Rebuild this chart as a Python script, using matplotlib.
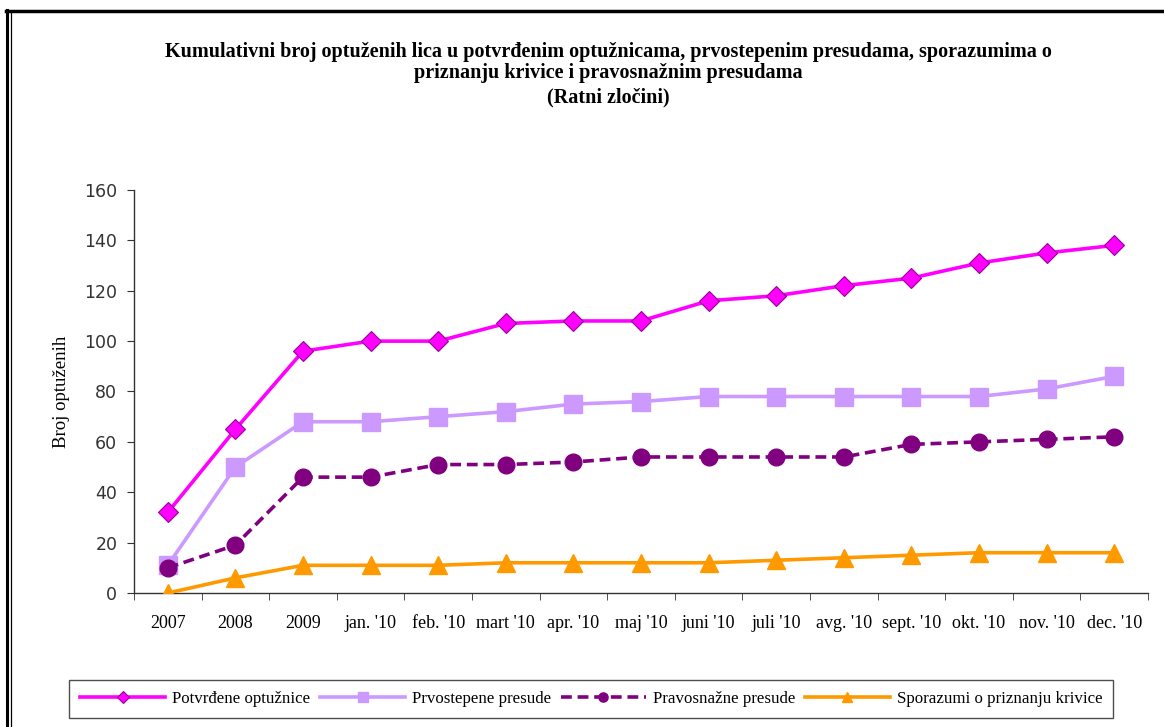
import matplotlib
matplotlib.use("Agg")
import matplotlib.pyplot as plt
from matplotlib.lines import Line2D
import numpy as np

categories = ["2007", "2008", "2009", "jan. '10", "feb. '10", "mart '10", "apr. '10",
              "maj '10", "juni '10", "juli '10", "avg. '10", "sept. '10", "okt. '10",
              "nov. '10", "dec. '10"]
potvrdjene = [32, 65, 96, 100, 100, 107, 108, 108, 116, 118, 122, 125, 131, 135, 138]
prvostepene = [11, 50, 68, 68, 70, 72, 75, 76, 78, 78, 78, 78, 78, 81, 86]
pravosnazne = [10, 19, 46, 46, 51, 51, 52, 54, 54, 54, 54, 59, 60, 61, 62]
sporazumi = [0, 6, 11, 11, 11, 12, 12, 12, 12, 13, 14, 15, 16, 16, 16]

series_names = ["Potvrđene optužnice", "Prvostepene presude",
                "Pravosnažne presude", "Sporazumi o priznanju krivice"]

fig = plt.figure(figsize=(11.64, 7.27), dpi=100)
ax = fig.add_axes([0.1151, 0.1843, 0.8711, 0.5544])

x = np.arange(len(categories))
lw = 2.6
ax.plot(x, potvrdjene, color="#FF00FF", lw=lw, marker="D", markersize=10.5,
        markerfacecolor="#FF00FF", markeredgecolor="#990099", markeredgewidth=0.8,
        label=series_names[0], zorder=4)
ax.plot(x, prvostepene, color="#CC99FF", lw=lw, marker="s", markersize=12.5,
        markerfacecolor="#CC99FF", markeredgecolor="#CC99FF",
        label=series_names[1], zorder=3)
ax.plot(x, pravosnazne, color="#800080", lw=lw, ls=(0, (3, 1.6)), marker="o", markersize=12,
        markerfacecolor="#800080", markeredgecolor="#800080",
        label=series_names[2], zorder=5)
ax.plot(x, sporazumi, color="#FF9900", lw=lw, marker="^", markersize=12.5,
        markerfacecolor="#FF9900", markeredgecolor="#FF9900",
        label=series_names[3], zorder=3)

ax.set_xlim(-0.5, len(categories) - 0.5)
ax.set_ylim(0, 160)
ax.set_yticks(np.arange(0, 161, 20))
ax.set_xticks(x)
ax.set_xticklabels(categories, fontfamily="Liberation Serif", fontsize=13)
ax.set_xticks(np.arange(-0.5, len(categories), 1), minor=True)
ax.tick_params(axis="x", which="major", length=0, pad=16)
ax.tick_params(axis="x", which="minor", length=5, direction="out", color="#333333")
ax.tick_params(axis="y", length=5, direction="out", color="#333333", pad=7)
for lab in ax.get_yticklabels():
    lab.set_fontfamily("DejaVu Sans")
    lab.set_fontsize(12.5)
    lab.set_color("#333333")

for s in ["top", "right"]:
    ax.spines[s].set_visible(False)
for s in ["left", "bottom"]:
    ax.spines[s].set_color("#333333")
    ax.spines[s].set_linewidth(1.0)

ax.set_ylabel("Broj optuženih", fontfamily="Liberation Serif", fontsize=13.5, labelpad=10)

title_kw = dict(ha="center", va="center", fontfamily="Liberation Serif",
                fontweight="bold", fontsize=14.5)
fig.text(0.523, 0.929, "Kumulativni broj optuženih lica u potvrđenim optužnicama, prvostepenim presudama, sporazumima o", **title_kw)
fig.text(0.523, 0.899, "priznanju krivice i pravosnažnim presudama", **title_kw)
fig.text(0.523, 0.866, "(Ratni zločini)", **title_kw)

handles, labels = ax.get_legend_handles_labels()
leg = fig.legend(handles, labels, loc="center", bbox_to_anchor=(0.508, 0.0385),
                 ncol=4, frameon=True, fancybox=False, edgecolor="#222222",
                 prop={"family": "Liberation Serif", "size": 12.2},
                 handlelength=5.0, markerscale=0.55, columnspacing=0.6,
                 handletextpad=0.4, borderpad=0.65)
leg.get_frame().set_linewidth(1.0)

# outer frame
fig.add_artist(Line2D([0.005, 1.0], [0.985, 0.985], transform=fig.transFigure, color="black", lw=2.5))
fig.add_artist(Line2D([0.006, 0.006], [0.0, 0.986], transform=fig.transFigure, color="black", lw=2.2))
fig.add_artist(Line2D([0.0095, 0.0095], [0.0, 0.983], transform=fig.transFigure, color="black", lw=0.9))

fig.savefig("out.png", dpi=100, facecolor="white")
